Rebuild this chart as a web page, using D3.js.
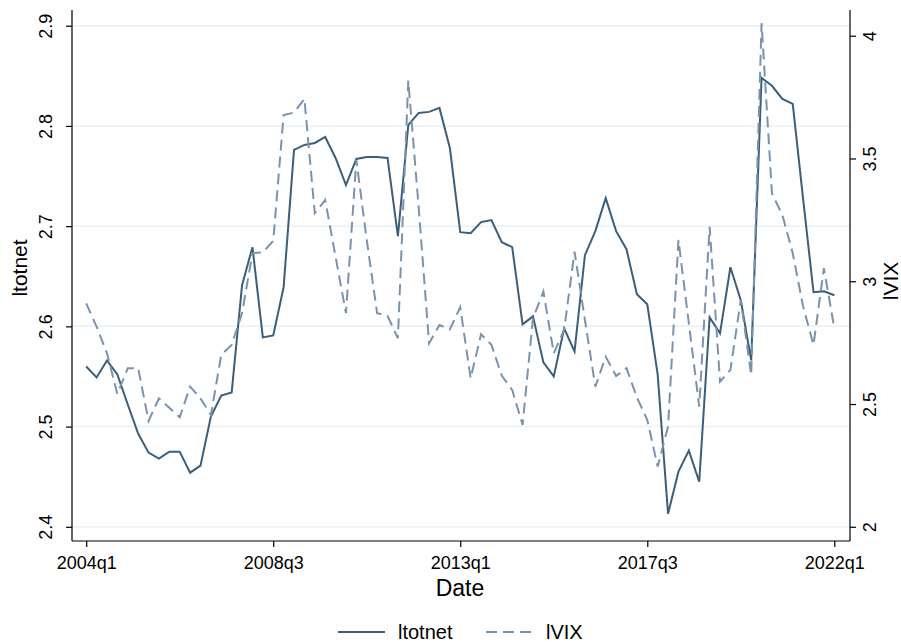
<!DOCTYPE html>
<html>
<head>
<meta charset="utf-8">
<script src="https://cdn.jsdelivr.net/npm/d3@7/dist/d3.min.js"></script>
<style>
  html, body { margin: 0; padding: 0; background: #fff; }
  svg { display: block; font-family: "Liberation Sans", Arial, sans-serif; }
</style>
</head>
<body>
<svg id="chart" width="901" height="642"></svg>
<script>
// ---- Data ----
const startYear = 2004, endYear = 2022;
const dates = [];
for (let y = startYear; y <= endYear; y++) {
  for (let q = 1; q <= 4; q++) {
    if (y === endYear && q > 1) break;
    dates.push(y + "q" + q);
  }
}
const ltotnet = [
  2.560, 2.549, 2.566, 2.552, 2.522, 2.493, 2.474, 2.468, 2.475, 2.475,
  2.454, 2.461, 2.510, 2.531, 2.534, 2.641, 2.679, 2.589, 2.591, 2.639,
  2.776, 2.781, 2.783, 2.789, 2.768, 2.741, 2.767, 2.769, 2.769, 2.768,
  2.690, 2.801, 2.813, 2.814, 2.818, 2.778, 2.694, 2.693, 2.704, 2.706,
  2.684, 2.679, 2.602, 2.610, 2.564, 2.550, 2.598, 2.575, 2.671, 2.695,
  2.728, 2.695, 2.677, 2.632, 2.622, 2.552, 2.413, 2.455, 2.476, 2.445,
  2.609, 2.593, 2.659, 2.626, 2.566, 2.848, 2.840, 2.827, 2.822, 2.727,
  2.634, 2.635, 2.631
];
const lVIX = [
  2.910, 2.815, 2.707, 2.541, 2.646, 2.646, 2.431, 2.523, 2.485, 2.446,
  2.571, 2.523, 2.455, 2.700, 2.741, 2.870, 3.114, 3.118, 3.164, 3.677,
  3.687, 3.743, 3.277, 3.331, 3.100, 2.870, 3.494, 3.168, 2.870, 2.859,
  2.768, 3.817, 3.300, 2.747, 2.822, 2.804, 2.894, 2.605, 2.784, 2.741,
  2.615, 2.557, 2.415, 2.849, 2.958, 2.707, 2.802, 3.121, 2.842, 2.571,
  2.693, 2.614, 2.646, 2.527, 2.435, 2.245, 2.408, 3.168, 2.829, 2.489,
  3.222, 2.591, 2.639, 2.924, 2.618, 4.051, 3.358, 3.270, 3.114, 2.897,
  2.741, 3.053, 2.809
];
const xTickLabels = ["2004q1", "2008q3", "2013q1", "2017q3", "2022q1"];
const leftTicks = [2.4, 2.5, 2.6, 2.7, 2.8, 2.9];
const rightTicks = [2, 2.5, 3, 3.5, 4];
const seriesNames = ["ltotnet", "lVIX"];

// ---- Layout ----
const plot = { left: 72, right: 850, top: 10, bottom: 541 };
const colSolid = "#3b5e7b";
const colDash = "#7a93ad";
const gridCol = "#eaf0f4";

const svg = d3.select("#chart");

const x = d3.scalePoint().domain(dates).range([86.2, 834.3]);
const yL = d3.scaleLinear().domain([2.4, 2.9]).range([526.8, 25.7]);
const yR = d3.scaleLinear().domain([2, 4]).range([526.8, 35.7]);

// gridlines
svg.append("g").selectAll("line").data(leftTicks).join("line")
  .attr("x1", plot.left).attr("x2", plot.right)
  .attr("y1", d => yL(d)).attr("y2", d => yL(d))
  .attr("stroke", gridCol).attr("stroke-width", 1.5);

// lines
const lineL = d3.line().x((d, i) => x(dates[i])).y(d => yL(d));
const lineR = d3.line().x((d, i) => x(dates[i])).y(d => yR(d));

svg.append("path").datum(ltotnet).attr("d", lineL)
  .attr("fill", "none").attr("stroke", colSolid).attr("stroke-width", 2)
  .attr("stroke-linejoin", "miter");
svg.append("path").datum(lVIX).attr("d", lineR)
  .attr("fill", "none").attr("stroke", colDash).attr("stroke-width", 2)
  .attr("stroke-dasharray", "11,6");

// axes frame lines
svg.append("line").attr("x1", plot.left).attr("x2", plot.left)
  .attr("y1", plot.top).attr("y2", plot.bottom).attr("stroke", "#000").attr("stroke-width", 1.2);
svg.append("line").attr("x1", plot.right).attr("x2", plot.right)
  .attr("y1", plot.top).attr("y2", plot.bottom).attr("stroke", "#000").attr("stroke-width", 1.2);
svg.append("line").attr("x1", plot.left).attr("x2", plot.right)
  .attr("y1", plot.bottom).attr("y2", plot.bottom).attr("stroke", "#000").attr("stroke-width", 1.2);

// left axis
const gL = svg.append("g").attr("transform", `translate(${plot.left},0)`)
  .call(d3.axisLeft(yL).tickValues(leftTicks).tickSize(6).tickFormat(d3.format("")));
gL.select(".domain").remove();
gL.selectAll(".tick line").attr("stroke", "#000").attr("stroke-width", 1.2);
gL.selectAll(".tick text")
  .attr("x", null).attr("dy", null)
  .attr("transform", "translate(-20,0) rotate(-90)")
  .attr("text-anchor", "middle").attr("dominant-baseline", "auto")
  .attr("font-size", 18).attr("fill", "#000");

// right axis
const gR = svg.append("g").attr("transform", `translate(${plot.right},0)`)
  .call(d3.axisRight(yR).tickValues(rightTicks).tickSize(6).tickFormat(d3.format("")));
gR.select(".domain").remove();
gR.selectAll(".tick line").attr("stroke", "#000").attr("stroke-width", 1.2);
gR.selectAll(".tick text")
  .attr("x", null).attr("dy", null)
  .attr("transform", "translate(26,0) rotate(-90)")
  .attr("text-anchor", "middle").attr("dominant-baseline", "auto")
  .attr("font-size", 18).attr("fill", "#000");

// bottom axis
const gB = svg.append("g").attr("transform", `translate(0,${plot.bottom})`)
  .call(d3.axisBottom(x).tickValues(xTickLabels).tickSize(6));
gB.select(".domain").remove();
gB.selectAll(".tick line").attr("stroke", "#000").attr("stroke-width", 1.2);
gB.selectAll(".tick text").attr("y", 15).attr("dy", "0.71em")
  .attr("font-size", 18).attr("fill", "#000");

// axis titles
svg.append("text").attr("transform", "translate(27,268) rotate(-90)")
  .attr("text-anchor", "middle").attr("font-size", 21).text("ltotnet");
svg.append("text").attr("transform", "translate(898,281) rotate(-90)")
  .attr("text-anchor", "middle").attr("font-size", 21).text("lVIX");
svg.append("text").attr("x", 460).attr("y", 596)
  .attr("text-anchor", "middle").attr("font-size", 23).text("Date");

// legend
const legend = svg.append("g");
const legItems = [
  { name: seriesNames[0], color: colSolid, dash: null, x0: 338 },
  { name: seriesNames[1], color: colDash, dash: "11,6", x0: 486 }
];
legItems.forEach(it => {
  legend.append("line").attr("x1", it.x0).attr("x2", it.x0 + 47)
    .attr("y1", 632).attr("y2", 632)
    .attr("stroke", it.color).attr("stroke-width", 2)
    .attr("stroke-dasharray", it.dash);
  legend.append("text").attr("x", it.x0 + 60).attr("y", 639)
    .attr("font-size", 20).text(it.name);
});
</script>
</body>
</html>
